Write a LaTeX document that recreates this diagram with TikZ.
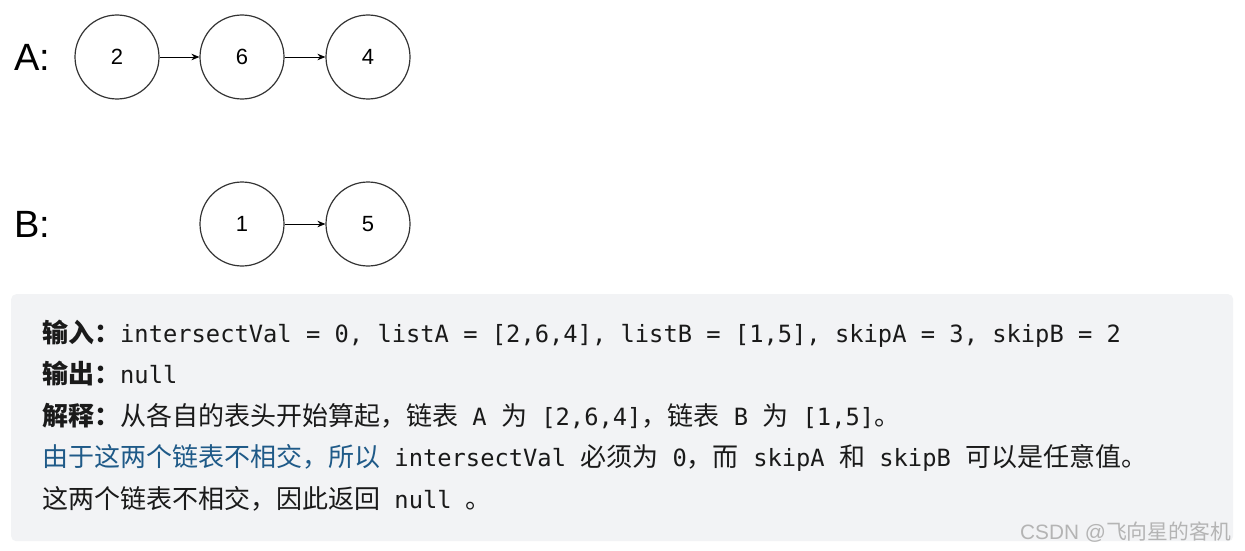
\documentclass[tikz,border=0pt]{standalone}
\usepackage{fontspec}
\setmainfont{Liberation Sans}
\newfontfamily\cjkf{Noto Sans CJK SC}
\newfontfamily\monof{DejaVu Sans Mono}
\usetikzlibrary{arrows.meta}
\definecolor{boxbg}{HTML}{F2F3F5}
\definecolor{ink}{HTML}{1A1A1A}
\definecolor{blueink}{HTML}{1F5A88}
\definecolor{edge}{HTML}{333333}
\definecolor{wm}{HTML}{B4B4B4}
\newcommand{\Cj}[1]{{\cjkf\fontsize{26}{26}\selectfont #1}}
\newcommand{\Mo}[1]{{\monof\fontsize{23.75}{26}\selectfont #1}}
\newcommand{\Bj}[1]{{\cjkf\bfseries\fontsize{26}{26}\selectfont #1}}
\tikzset{
  listnode/.style={circle, draw=edge, line width=1.2pt, minimum size=84pt, inner sep=0pt, font=\fontsize{22}{22}\selectfont},
  lbl/.style={font=\fontsize{38}{38}\selectfont, anchor=west, inner sep=0pt},
  link/.style={draw=black, line width=0.9pt, -{Stealth[length=8pt,width=6.5pt]}},
  textline/.style={anchor=base west, inner sep=0pt, text=ink},
}
\begin{document}
\begin{tikzpicture}[x=1pt,y=-1pt]
\useasboundingbox (0,0) rectangle (1245,551);
\fill[white] (0,0) rectangle (1245,551);
% lists
\node[lbl] (la) at (14,57) {A:};
\node[lbl] (lb) at (14,224) {B:};
\node[listnode] (a1) at (117,57) {2};
\node[listnode] (a2) at (242,57) {6};
\node[listnode] (a3) at (368,57) {4};
\node[listnode] (b1) at (242,224) {1};
\node[listnode] (b2) at (368,224) {5};
\draw[link] (a1) -- (a2);
\draw[link] (a2) -- (a3);
\draw[link] (b1) -- (b2);
% box
\node[draw=none, fill=boxbg, rounded corners=5pt, minimum width=1222pt, minimum height=247pt, anchor=north west, inner sep=0pt] (box) at (11,294) {};
\node[textline] (l1) at (42,342) {\Bj{输入：}\Mo{intersectVal = 0, listA = [2,6,4], listB = [1,5], skipA = 3, skipB = 2}};
\node[textline] (l2) at (42,383.5) {\Bj{输出：}\Mo{null}};
\node[textline] (l3) at (42,425) {\Bj{解释：}\Cj{从各自的表头开始算起，链表}\Mo{ A }\Cj{为}\Mo{ [2,6,4]}\Cj{，链表}\Mo{ B }\Cj{为}\Mo{ [1,5]}\Cj{。}};
\node[textline] (l4) at (42,466.5) {\textcolor{blueink}{\Cj{由于这两个链表不相交，所以}}\Mo{ intersectVal }\Cj{必须为}\Mo{ 0}\Cj{，而}\Mo{ skipA }\Cj{和}\Mo{ skipB }\Cj{可以是任意值。}};
\node[textline] (l5) at (42,508) {\Cj{这两个链表不相交，因此返回}\Mo{ null }\Cj{。}};
\node[anchor=base east, inner sep=0pt, text=wm, font=\fontsize{20.8}{21}\selectfont] (wmk) at (1231,539) {CSDN @\cjkf 飞向星的客机};
\end{tikzpicture}
\end{document}
